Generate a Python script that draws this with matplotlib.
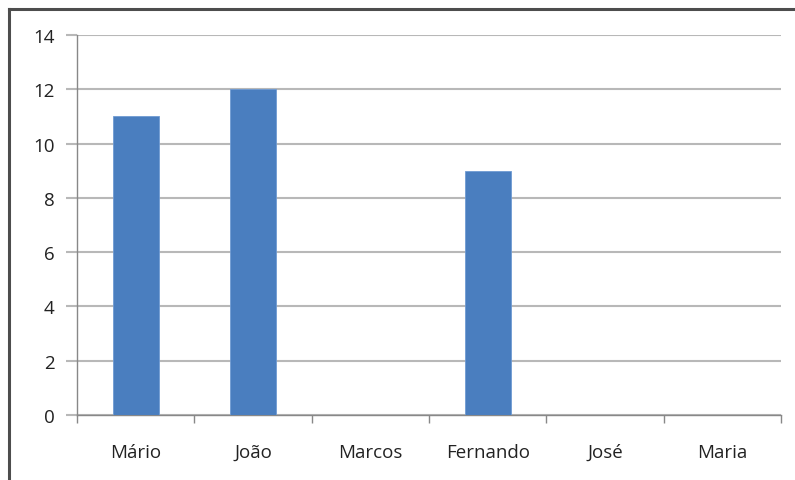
import matplotlib
matplotlib.use("Agg")
import matplotlib.pyplot as plt
from matplotlib.lines import Line2D

categories = ["Mário", "João", "Marcos", "Fernando", "José", "Maria"]
values = [11, 12, 0, 9, 0, 0]
y_ticks = [0, 2, 4, 6, 8, 10, 12, 14]

W, H = 795, 481
fig = plt.figure(figsize=(W / 100, H / 100), dpi=100)
plt.rcParams["font.family"] = ["Open Sans", "DejaVu Sans"]

ax = fig.add_axes([77 / W, 1 - 416 / H, (781 - 77) / W, (416 - 36) / H])

x = list(range(len(categories)))
ax.bar(x, values, width=0.39, color="#4a7ebf", edgecolor="#6f9bd3", linewidth=0.6, zorder=3)

ax.set_xlim(-0.5, len(categories) - 0.5)
ax.set_ylim(0, 14)
ax.set_yticks(y_ticks)
ax.set_yticklabels([str(v) for v in y_ticks], fontsize=13.5, color="#222222")
ax.yaxis.grid(True, color="#b8b8b8", linewidth=1.5, zorder=0)
ax.set_axisbelow(True)

# category ticks sit on the boundaries between groups
ax.set_xticks([i - 0.5 for i in range(len(categories) + 1)], minor=False)
ax.set_xticklabels([])
ax.set_xticks(x, minor=True)
ax.set_xticklabels(categories, minor=True, fontsize=13.5, color="#222222")
ax.tick_params(axis="x", which="minor", length=0, pad=20)
ax.tick_params(axis="x", which="major", length=6, color="#888888", width=1)
ax.tick_params(axis="y", length=8, color="#b8b8b8", width=1.5, pad=8)

for side in ["top", "right"]:
    ax.spines[side].set_visible(False)
ax.spines["left"].set_color("#888888")
ax.spines["bottom"].set_color("#888888")
ax.spines["left"].set_linewidth(1)
ax.spines["bottom"].set_linewidth(1)

# outer frame: left and top edges
fig.add_artist(Line2D([9 / W, 9 / W], [0, 1 - 10 / H], transform=fig.transFigure,
                      color="#4d4d4d", linewidth=2.2))
fig.add_artist(Line2D([9 / W, 1], [1 - 10 / H, 1 - 10 / H], transform=fig.transFigure,
                      color="#4d4d4d", linewidth=2.2))

fig.savefig("out.png", dpi=100)
